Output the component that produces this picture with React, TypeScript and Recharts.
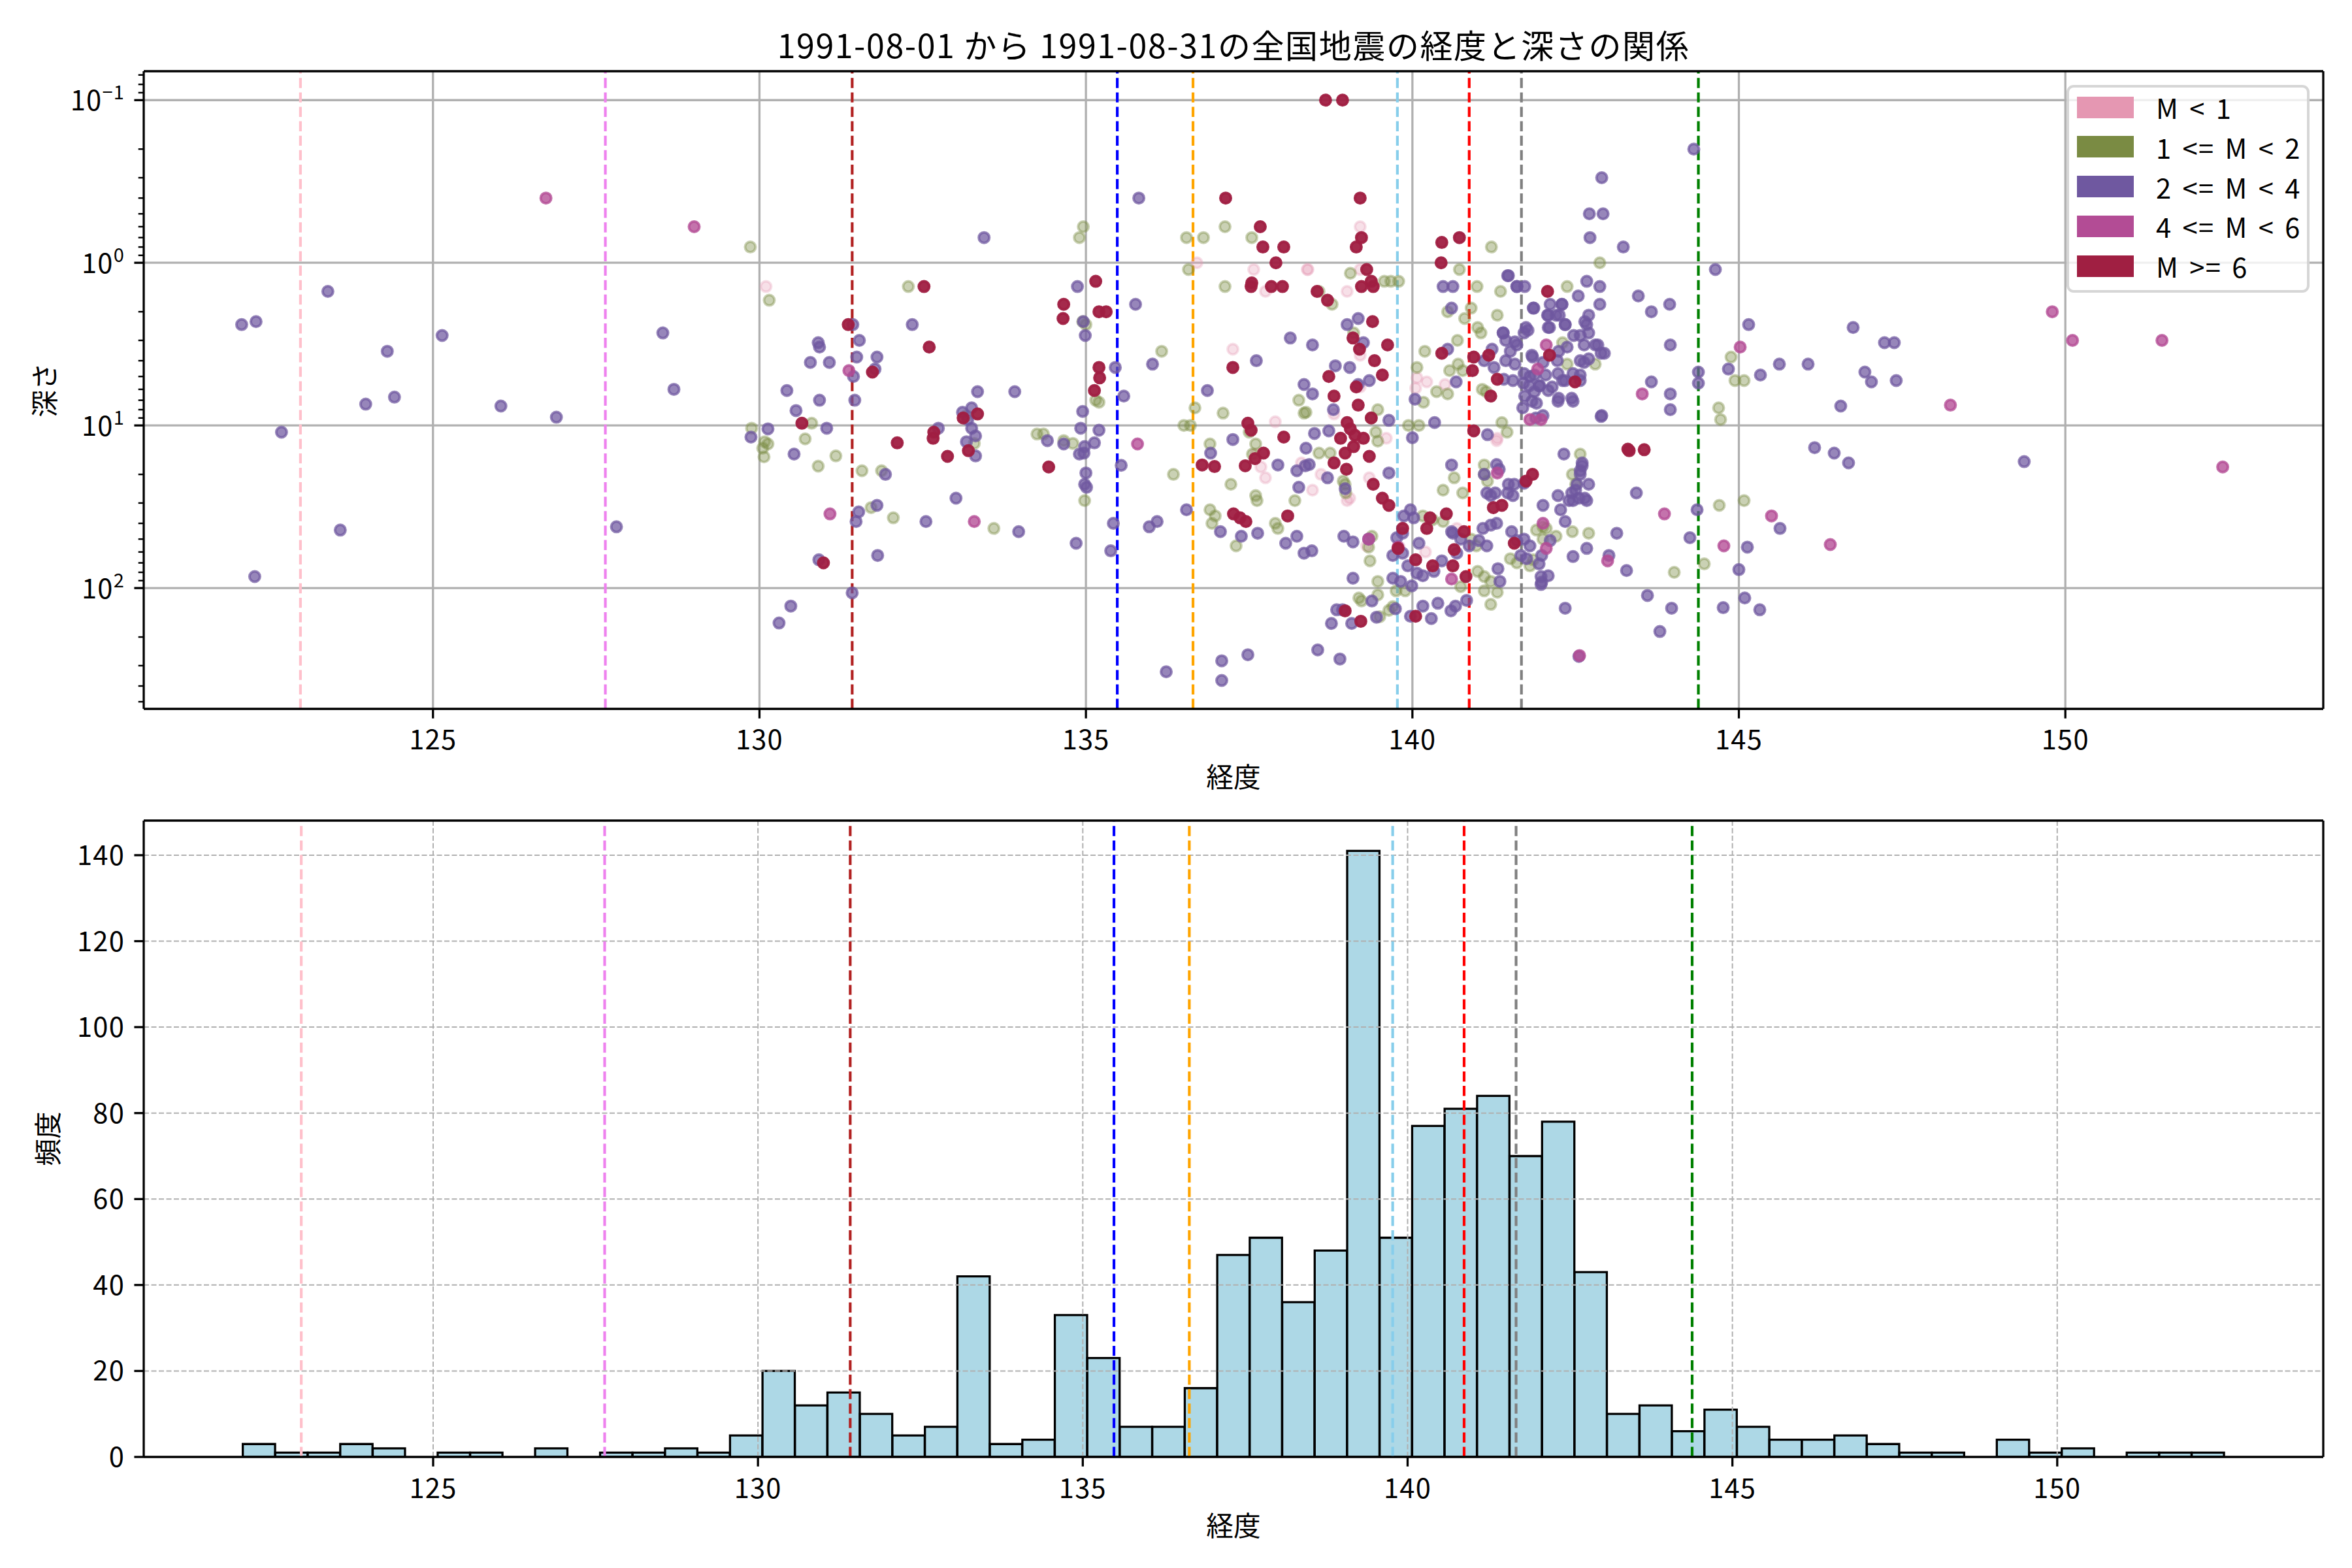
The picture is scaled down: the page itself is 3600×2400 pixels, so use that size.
import React from 'react';
import {
  ScatterChart, Scatter, XAxis, YAxis, ReferenceLine, Legend,
  BarChart, Bar,
} from 'recharts';

const FONT = '"Noto Sans CJK JP", "Noto Sans", sans-serif';

// ---------------- data ----------------
const TITLE = '1991-08-01 から 1991-08-31の全国地震の経度と深さの関係';
const X_LABEL = '経度';
const Y_LABEL_TOP = '深さ';
const Y_LABEL_BOTTOM = '頻度';

const X_TICKS = [125, 130, 135, 140, 145, 150];
const Y_MAJOR = [0.1, 1, 10, 100];
const Y_MINOR = [0.07, 0.08, 0.09, 0.2, 0.3, 0.4, 0.5, 0.6, 0.7, 0.8, 0.9, 2, 3, 4, 5, 6, 7, 8, 9, 20, 30, 40, 50, 60, 70, 80, 90, 200, 300, 400, 500];

const CAT_LABELS = ['M < 1', '1 <= M < 2', '2 <= M < 4', '4 <= M < 6', 'M >= 6'];
const CAT_COLORS = ['#e597b2', '#7a8b43', '#6f58a0', '#b34c95', '#a01f42'];
const CAT_ALPHA = [0.3, 0.4, 0.72, 0.78, 0.95];

// [longitude, depth]
const POINTS_M0: [number, number][] = [
  [130.10, 1.4], [137.25, 3.4], [137.57, 1.1], [138.39, 1.1], [137.75, 1.5], [137.6, 15], [137.68, 18], [137.75, 21],
  [138.3, 17], [138.47, 25], [139.0, 29], [139.8, 56], [140.68, 43], [138.4, 1.1], [139.0, 1.5], [139.2, 1.1],
  [139.2, 3.7], [139.2, 5.8], [140.07, 5.1], [140.5, 5.6], [141.3, 12], [138.8, 8.5], [139.04, 28], [139.34, 21],
  [139.3, 55], [140.2, 60], [139.2, 0.6], [140.05, 5.9], [140.22, 5.4], [141.29, 12.4], [137.9, 9.5], [136.7, 1.0],
  [138.6, 20], [139.6, 12],
];

const POINTS_M1: [number, number][] = [
  [129.86, 0.8], [130.15, 1.7], [129.88, 10.4], [130.08, 12.6], [130.13, 13], [130.05, 13.8], [130.07, 15.6], [130.8, 9.7],
  [130.70, 12.1], [130.90, 17.8], [131.17, 15.4], [131.57, 19], [131.87, 19], [131.71, 32], [132.05, 37], [132.28, 1.4],
  [133.17, 8.7], [133.29, 12.9], [133.59, 43], [134.25, 11.3], [134.35, 11.3], [134.66, 12.4], [134.8, 12.9], [134.96, 0.6],
  [134.90, 0.7], [134.95, 2.3], [135.0, 2.4], [135.15, 7.0], [135.2, 7.2], [134.98, 29], [136.16, 3.5], [136.34, 20],
  [137.13, 0.6], [136.54, 0.7], [136.57, 1.1], [137.13, 1.4], [137.54, 0.7], [136.67, 7.8], [137.1, 8.4], [136.6, 10],
  [136.5, 10], [136.9, 13], [137.5, 11], [137.6, 13], [137.55, 15], [138.26, 7.0], [138.34, 8.4], [137.22, 23],
  [137.6, 27], [137.62, 29], [136.9, 33], [136.98, 36], [136.93, 40], [137.9, 40], [137.94, 43], [137.3, 55],
  [138.2, 29], [139.38, 48], [139.33, 56], [139.35, 68], [139.18, 115], [139.22, 120], [139.47, 91], [139.47, 110],
  [139.75, 104], [139.89, 104], [139.7, 130], [139.5, 150], [139.64, 137], [140.16, 36], [140.31, 38], [140.47, 39],
  [140.9, 50], [140.98, 55], [141.0, 79], [141.1, 85], [141.2, 91], [141.1, 104], [141.3, 106], [141.2, 126],
  [141.5, 66], [141.6, 70], [141.8, 73], [141.85, 67], [142.0, 42], [141.9, 44], [142.05, 43], [142.0, 50],
  [142.2, 48], [142.45, 45], [142.7, 46], [144.7, 31], [144.69, 7.8], [144.72, 9.2], [144.88, 3.8], [144.94, 5.3],
  [145.08, 5.3], [145.08, 29], [144.01, 80], [144.47, 71], [140.74, 98], [141.21, 0.8], [142.87, 1.0], [136.8, 0.7],
  [139.05, 1.16], [139.57, 1.3], [139.67, 1.3], [139.79, 1.3], [138.57, 1.5], [138.77, 1.8], [140.72, 1.1], [140.99, 1.4],
  [141.35, 1.5], [142.37, 1.4], [140.9, 1.9], [140.54, 2.0], [140.8, 2.2], [141.0, 2.5], [141.05, 2.7], [141.3, 2.1],
  [140.69, 3.0], [140.19, 3.5], [140.07, 4.4], [140.7, 4.2], [140.57, 4.6], [140.77, 4.6], [140.37, 6.2], [140.17, 7.2],
  [140.54, 6.4], [141.07, 6.0], [141.13, 6.2], [139.1, 2.7], [139.47, 8.0], [139.37, 9.0], [139.44, 11], [139.47, 12.5],
  [138.57, 14.8], [138.74, 14.8], [138.37, 8.3], [138.97, 23], [139.94, 10], [140.1, 10], [141.37, 9.6], [141.45, 11],
  [141.1, 17.5], [140.64, 21], [140.47, 25], [140.77, 26], [142.57, 15], [142.8, 4.2], [142.3, 3.1], [142.37, 4.2],
  [141.1, 20], [141.15, 22], [138.94, 22], [138.98, 26], [142.45, 20], [142.5, 23],
];

const POINTS_M2: [number, number][] = [
  [122.07, 2.4], [122.29, 2.3], [123.39, 1.5], [122.68, 11], [122.27, 85], [123.58, 44], [124.30, 3.5], [123.97, 7.4],
  [124.41, 6.7], [125.14, 2.8], [126.04, 7.6], [126.89, 8.9], [127.81, 42], [128.52, 2.7], [128.69, 6.0], [129.87, 11.8],
  [130.13, 10.5], [130.42, 6.1], [130.56, 8.1], [130.78, 4.1], [130.90, 3.1], [130.92, 3.3], [130.92, 7.0], [131.07, 4.1],
  [131.03, 10.4], [130.53, 15], [131.43, 2.4], [131.53, 3.0], [131.49, 3.8], [131.44, 5.0], [131.46, 7.0], [131.80, 3.8],
  [131.77, 4.5], [131.93, 20], [131.52, 34], [131.48, 39], [131.80, 31], [131.81, 63], [130.91, 67], [131.42, 107],
  [130.48, 129], [130.30, 164], [132.34, 2.4], [133.01, 28], [132.55, 39], [132.74, 10.4], [133.11, 8.3], [133.19, 9.2],
  [133.25, 10.4], [133.31, 11.6], [133.17, 12.6], [133.31, 15.4], [133.25, 7.8], [133.34, 6.2], [133.44, 0.7], [133.91, 6.2],
  [133.97, 45], [134.41, 12.4], [134.66, 13], [134.85, 53], [134.87, 1.4], [134.96, 2.3], [134.99, 2.8], [134.95, 8.2],
  [134.92, 10.4], [134.98, 13.5], [134.97, 14.8], [135.0, 19.6], [134.98, 23], [135.01, 24], [135.13, 12.8], [134.9, 15],
  [135.2, 10.7], [135.45, 4.4], [135.58, 6.6], [135.54, 17.6], [135.42, 40], [135.38, 59], [135.81, 0.4], [135.76, 1.8],
  [136.02, 4.2], [135.97, 42], [136.09, 39], [136.23, 327],
  [144.31, 0.2], [142.90, 0.3], [142.71, 0.5], [142.92, 0.5], [142.72, 0.7], [143.23, 0.8], [144.64, 1.1], [143.46, 1.6],
  [143.66, 2.0], [143.94, 1.8], [145.15, 2.4], [146.75, 2.5], [147.23, 3.1], [147.38, 3.1], [143.95, 3.2], [144.38, 4.7],
  [144.38, 5.5], [144.84, 4.5], [145.33, 4.9], [145.62, 4.2], [146.06, 4.2], [146.93, 4.7], [147.03, 5.4], [147.41, 5.3],
  [143.66, 5.4], [143.95, 6.4], [143.95, 8.0], [146.56, 7.6], [146.16, 13.7], [146.46, 14.8], [146.68, 17], [149.37, 16.7],
  [143.43, 26], [144.36, 33], [145.63, 43], [145.13, 56], [145.0, 77], [145.09, 115], [145.32, 136], [144.76, 132],
  [144.25, 49], [143.13, 46], [143.28, 78], [143.01, 63], [142.67, 57], [143.6, 111], [143.97, 133], [143.79, 185],
  [142.34, 133], [141.97, 85], [141.97, 95], [142.55, 263], [137.08, 280], [137.08, 370], [137.48, 257], [138.55, 240],
  [138.89, 273],
  [136.86, 6.1], [137.25, 12.2], [136.91, 14.8], [136.54, 33], [137.06, 45], [137.38, 48], [137.63, 46], [138.23, 48],
  [138.46, 59], [138.34, 61], [138.06, 53], [138.34, 5.6], [138.13, 2.9], [137.61, 4.0], [138.23, 19], [138.36, 17.7],
  [137.94, 17.5], [138.26, 24], [138.95, 48], [139.09, 52], [139.09, 87], [139.33, 50], [138.76, 165], [138.84, 136],
  [139.07, 165], [138.93, 136], [139.45, 151], [139.38, 120], [139.74, 134], [139.85, 46], [139.76, 49], [139.70, 63],
  [139.87, 36], [140.02, 37], [140.10, 53], [139.85, 61], [139.93, 73], [140.07, 81], [140.16, 84], [140.33, 79],
  [140.45, 68], [140.62, 46], [140.74, 50], [140.87, 55], [141.02, 51], [141.08, 43], [141.2, 27], [141.2, 41],
  [141.29, 40], [141.46, 26], [141.52, 45], [141.6, 51], [141.71, 50], [141.8, 55], [141.75, 66], [141.98, 63],
  [141.66, 63], [141.94, 71], [142.08, 84], [141.98, 92], [141.31, 76], [141.34, 91], [141.14, 55], [140.6, 45],
  [140.68, 61], [140.39, 124], [140.59, 138], [140.66, 129], [140.83, 119], [140.16, 129], [140.29, 154], [139.97, 149],
  [139.82, 91], [139.70, 87], [139.99, 97], [141.33, 18.6], [141.56, 23], [141.71, 22.7], [142.11, 51], [142.34, 39],
  [142.23, 27], [142.44, 26], [142.52, 23], [142.57, 20], [142.6, 17.7], [142.46, 29], [142.55, 28], [142.67, 29],
  [142.46, 64],
  [138.47, 3.2], [139.0, 2.4], [139.17, 2.2], [139.25, 3.1], [138.82, 4.3], [139.04, 4.4], [139.17, 5.6], [139.34, 5.3],
  [138.47, 6.4], [138.79, 8.0], [139.64, 9.3], [138.5, 11.2], [138.72, 10.8], [138.37, 13.8], [138.42, 17.4], [138.7, 21],
  [138.97, 24.5], [139.64, 19.6], [140.0, 11.9], [140.04, 6.9], [140.34, 9.6], [140.47, 1.4], [140.62, 1.4], [140.6, 1.9],
  [140.54, 3.4], [140.67, 5.4], [141.15, 11.4], [140.6, 17.5], [141.1, 20], [141.29, 17.4], [141.47, 1.2], [141.6, 1.4],
  [141.72, 1.4], [141.39, 2.7], [141.57, 3.06], [141.50, 3.5], [141.57, 4.2], [141.74, 2.5], [141.77, 2.6], [141.84, 3.8],
  [141.80, 5.0], [141.70, 5.5], [141.72, 6.6], [141.87, 6.2], [141.95, 5.7], [141.9, 7.3], [142.04, 4.9], [142.14, 5.8],
  [142.24, 6.8], [142.44, 6.8], [142.3, 5.3], [142.57, 4.9], [142.57, 4.0], [142.7, 3.9], [142.64, 2.3], [142.7, 2.1],
  [142.7, 2.7], [142.84, 3.2], [142.94, 3.6], [142.87, 1.8], [142.87, 1.4], [142.67, 1.3], [142.54, 1.6], [142.29, 1.8],
  [142.07, 2.1], [142.2, 2.1], [142.1, 2.5], [142.34, 2.4], [142.37, 3.3], [142.47, 2.8], [141.85, 1.9], [142.9, 8.7],
  [142.32, 15], [142.6, 17], [142.57, 19], [142.5, 25], [142.64, 28], [142.7, 23], [142.4, 29], [142.27, 33],
  [142.0, 31], [141.4, 5.2], [142.22, 4.0], [142.24, 3.5], [141.87, 4.9], [141.47, 23], [141.54, 27], [141.14, 26],
  [141.27, 26], [139.97, 33],
  [141.46, 1.2], [141.6, 1.4], [141.86, 1.9], [142.08, 2.1], [142.25, 2.1], [142.34, 2.4], [142.08, 2.5], [142.11, 1.8],
  [142.29, 1.8], [142.67, 2.4], [142.57, 2.8], [142.63, 3.2], [142.8, 3.2], [142.89, 3.6], [142.63, 4.1], [142.46, 4.8],
  [142.23, 4.8], [142.0, 4.1], [141.83, 3.7], [141.71, 2.7], [141.6, 3.2], [141.43, 4.0], [141.39, 2.7], [141.71, 4.8],
  [141.79, 5.7], [141.94, 5.7], [142.08, 6.1], [142.23, 7.1], [142.46, 7.1], [141.83, 7.1], [141.69, 7.8], [141.89, 9.0],
  [142.0, 8.7], [142.34, 5.3], [142.57, 5.3], [142.89, 8.8], [141.22, 3.4], [141.43, 3.0], [141.54, 5.3], [141.1, 4.0],
  [141.25, 4.4],
];

const POINTS_M4: [number, number][] = [
  [126.73, 0.40], [129.0, 0.6], [131.08, 35], [131.37, 4.6], [133.29, 39], [135.79, 13], [149.80, 2.0], [150.11, 3.0],
  [151.48, 3.0], [148.24, 7.5], [152.41, 18], [145.02, 3.3], [143.52, 6.4], [143.86, 35], [145.5, 36], [144.77, 55],
  [146.4, 54], [142.99, 68], [142.56, 260], [141.8, 9.2], [141.97, 9.2], [142.05, 3.2], [141.92, 4.5], [141.3, 19.6],
  [142.0, 40], [142.05, 57], [139.33, 50], [139.78, 56], [140.6, 88],
];

const POINTS_M6: [number, number][] = [
  [131.36, 2.4], [131.73, 4.7], [132.52, 1.4], [132.60, 3.3], [130.65, 9.7], [130.98, 70], [132.11, 12.8], [132.67, 11],
  [132.66, 12], [132.88, 15.5], [133.20, 14.3], [133.34, 8.5], [133.12, 9], [134.43, 18], [134.66, 1.8], [134.65, 2.2],
  [135.15, 1.3], [135.2, 2.0], [135.31, 2.0], [135.2, 4.4], [135.21, 5.1], [135.13, 6.1],
  [138.67, 0.1], [138.93, 0.1], [137.14, 0.4], [139.2, 0.4], [137.67, 0.6], [137.71, 0.8], [138.03, 0.8], [137.91, 1.0],
  [137.54, 1.33], [137.53, 1.4], [137.84, 1.4], [138.01, 1.4], [139.14, 0.8], [139.22, 0.7], [137.48, 9.7], [137.53, 10.7],
  [138.03, 11.8], [137.59, 16], [137.72, 14.8], [137.44, 17.7], [136.78, 17.5], [136.97, 17.9], [137.25, 4.4], [138.09, 36],
  [137.26, 35], [137.45, 39], [137.36, 37], [139.85, 43], [140.22, 43], [139.78, 57], [140.05, 67], [140.31, 73],
  [140.64, 58], [140.62, 73], [138.97, 138], [139.21, 160], [140.05, 149], [140.45, 0.75], [140.72, 0.7], [141.56, 53],
  [140.82, 85], [140.79, 45], [143.32, 14.3], [143.55, 14.1],
  [139.30, 1.1], [139.37, 1.3], [139.22, 1.4], [139.4, 1.4], [138.54, 1.5], [138.70, 1.7], [139.39, 2.3], [139.09, 2.9],
  [139.62, 3.2], [139.19, 3.4], [139.42, 4.0], [138.72, 5.0], [139.54, 4.9], [139.14, 5.8], [138.80, 6.6], [139.17, 7.5],
  [139.0, 9.6], [139.37, 9.0], [139.12, 11.5], [138.97, 14.8], [139.34, 15.5], [138.80, 17], [138.99, 18.6], [139.4, 23],
  [139.54, 28], [139.64, 31], [140.45, 3.6], [140.44, 1.0], [140.94, 3.8], [140.92, 4.6], [141.17, 3.7], [141.3, 5.2],
  [141.2, 6.6], [140.94, 10.8], [142.07, 1.5], [142.1, 3.7], [142.49, 5.4], [143.30, 14], [141.84, 20], [141.74, 22],
  [141.37, 31], [141.24, 32], [140.52, 35], [140.27, 37], [139.05, 10.5], [139.25, 12], [139.1, 13.5], [138.9, 12],
];

const CAT_POINTS = [POINTS_M0, POINTS_M1, POINTS_M2, POINTS_M4, POINTS_M6];

// histogram (bin counts, bins of 0.5 degree starting at 122.07)
const HIST_START = 122.07;
const HIST_BIN = 0.5;
const HIST_COUNTS = [
  3, 1, 1, 3, 2, 0, 1, 1, 0, 2, 0, 1, 1, 2, 1, 5, 20, 12, 15, 10, 5, 7, 42, 3, 4, 33, 23, 7, 7, 16,
  47, 51, 36, 48, 141, 51, 77, 81, 84, 70, 78, 43, 10, 12, 6, 11, 7, 4, 4, 5, 3, 1, 1, 0, 4, 1, 2, 0, 1, 1, 1,
];
const HIST_Y_TICKS = [0, 20, 40, 60, 80, 100, 120, 140];

// reference longitudes (dashed vertical lines)
const REF_LONS = [122.97, 127.64, 131.42, 135.48, 136.64, 139.77, 140.87, 141.67, 144.38];
const REF_COLORS = ['pink', 'violet', 'firebrick', 'blue', 'orange', 'skyblue', 'red', 'gray', 'green'];

// ---------------- layout ----------------
const W = 3600;
const PLOT_LEFT = 220;
const PLOT_RIGHT = 3556;
const TOP_H = 1240;
const TOP_PLOT_TOP = 109;
const TOP_PLOT_BOTTOM = 1085;
const BOT_TOP = 1240;
const BOT_H = 1160;
const BOT_PLOT_TOP = 1256;
const BOT_PLOT_BOTTOM = 2230;

const TOP_X_DOMAIN: [number, number] = [120.57, 153.95];
const TOP_Y_DOMAIN: [number, number] = [0.0664, 553];
const BOT_X_DOMAIN: [number, number] = [120.545, 154.095];
const BOT_Y_DOMAIN: [number, number] = [0, 148.05];

const TICK_LEN = 14.6;
const MINOR_LEN = 8.3;
const AXIS_W = 3.3;
const FS = 41.7;
const LS = '1.2px';

const histData = HIST_COUNTS.map((c, i) => ({ center: HIST_START + HIST_BIN * (i + 0.5), count: c }));
// just under the band width so the library keeps the requested size (bars touch like a histogram)
const BAR_SIZE = (HIST_BIN * (PLOT_RIGHT - PLOT_LEFT)) / (BOT_X_DOMAIN[1] - BOT_X_DOMAIN[0]) - 0.3;

// ---------------- helpers ----------------
const XTick = (offsetY: number) => (props: any) => {
  const { x, y, payload } = props;
  return (
    <g>
      <line x1={x} x2={x} y1={y} y2={y + TICK_LEN} stroke="#000" strokeWidth={AXIS_W} />
      <text x={x} y={y + offsetY} textAnchor="middle" fontFamily={FONT} fontSize={FS} fill="#000" letterSpacing={LS}>
        {payload.value}
      </text>
    </g>
  );
};

const LogTick = (props: any) => {
  const { x, y, payload } = props;
  const v = payload.value as number;
  const e = Math.log10(v);
  const major = Math.abs(e - Math.round(e)) < 1e-6;
  const exp = Math.round(e);
  return (
    <g>
      <line x1={x - (major ? TICK_LEN : MINOR_LEN)} x2={x} y1={y} y2={y} stroke="#000" strokeWidth={AXIS_W * (major ? 1 : 0.75)} />
      {major && (
        <text x={x - 29} y={y + 16} textAnchor="end" fontFamily={FONT} fontSize={FS} fill="#000" letterSpacing={LS}>
          10
          <tspan dy={-17} fontSize={29}>{exp < 0 ? '\u2212' + Math.abs(exp) : String(exp)}</tspan>
        </text>
      )}
    </g>
  );
};

const LinTick = (props: any) => {
  const { x, y, payload } = props;
  return (
    <g>
      <line x1={x - TICK_LEN} x2={x} y1={y} y2={y} stroke="#000" strokeWidth={AXIS_W} />
      <text x={x - 29} y={y + 15} textAnchor="end" fontFamily={FONT} fontSize={FS} fill="#000" letterSpacing={LS}>
        {payload.value}
      </text>
    </g>
  );
};

const XLabel = (offsetY: number) => (props: any) => {
  const vb = props.viewBox || {};
  const cx = (vb.x ?? PLOT_LEFT) + (vb.width ?? PLOT_RIGHT - PLOT_LEFT) / 2;
  const cy = (vb.y ?? 0) + offsetY;
  return (
    <text x={cx} y={cy} textAnchor="middle" dominantBaseline="central" fontFamily={FONT} fontSize={FS} fill="#000">
      {X_LABEL}
    </text>
  );
};

const YLabel = (text: string, lx: number) => (props: any) => {
  const vb = props.viewBox || {};
  const cy = (vb.y ?? 0) + (vb.height ?? 0) / 2;
  return (
    <text x={lx} y={cy} transform={`rotate(-90, ${lx}, ${cy})`} textAnchor="middle" dominantBaseline="central"
      fontFamily={FONT} fontSize={FS} fill="#000">
      {text}
    </text>
  );
};

const makeDot = (color: string, alpha: number) => (props: any) => {
  if (props.cx == null || props.cy == null) return <g />;
  return (
    <circle cx={props.cx} cy={props.cy} r={8} fill={color} fillOpacity={alpha} stroke={color} strokeOpacity={alpha} strokeWidth={4} />
  );
};

// axes frame drawn as four reference lines on the domain edges (last, so it sits on top)
const frameLines = (xd: [number, number], yd: [number, number], key: string) => [
  <ReferenceLine key={key + 'fb'} y={yd[0]} stroke="#000" strokeWidth={AXIS_W} ifOverflow="visible" />,
  <ReferenceLine key={key + 'ft'} y={yd[1]} stroke="#000" strokeWidth={AXIS_W} ifOverflow="visible" />,
  <ReferenceLine key={key + 'fl'} x={xd[0]} stroke="#000" strokeWidth={AXIS_W} ifOverflow="visible" />,
  <ReferenceLine key={key + 'fr'} x={xd[1]} stroke="#000" strokeWidth={AXIS_W} ifOverflow="visible" />,
];

const LegendBox = () => (
  <div style={{
    position: 'relative', width: 372, height: 318, boxSizing: 'border-box',
    border: '4px solid rgba(204,204,204,0.8)', borderRadius: 11, background: 'rgba(255,255,255,0.8)',
    fontFamily: FONT, fontSize: FS, color: '#000',
  }}>
    {CAT_LABELS.map((lab, i) => {
      const cy = 30 + i * 60.8;
      return (
        <div key={lab}>
          <div style={{ position: 'absolute', left: 12, top: cy - 16.5, width: 87, height: 33, background: CAT_COLORS[i] }} />
          <div style={{
            position: 'absolute', left: 133, top: cy - 25, height: 50, lineHeight: '50px', whiteSpace: 'nowrap',
            letterSpacing: '1.5px', wordSpacing: '5px',
          }}>{lab}</div>
        </div>
      );
    })}
  </div>
);

export default function App() {
  return (
    <div style={{ position: 'absolute', left: 0, top: 0, width: W, height: 2400, background: '#fff', fontFamily: FONT }}>
      <div style={{
        position: 'absolute', left: 0, top: 42, width: PLOT_LEFT + PLOT_RIGHT, height: 50, lineHeight: '50px',
        textAlign: 'center', fontSize: 50, color: '#000', whiteSpace: 'nowrap', letterSpacing: '1.6px',
      }}>
        {TITLE}
      </div>

      {/* Top: scatter of longitude vs depth */}
      <div style={{ position: 'absolute', left: 0, top: 0 }}>
        <ScatterChart width={W} height={TOP_H}
          margin={{ top: TOP_PLOT_TOP, right: W - PLOT_RIGHT, bottom: 0, left: 0 }}>
          <XAxis type="number" dataKey="lon" domain={TOP_X_DOMAIN} ticks={X_TICKS} allowDataOverflow
            height={TOP_H - TOP_PLOT_BOTTOM} tickSize={0} tickMargin={0} axisLine={false} tickLine={false}
            tick={XTick(62)} interval={0} label={{ content: XLabel(102) } as any} />
          <YAxis type="number" dataKey="depth" scale="log" domain={TOP_Y_DOMAIN} reversed allowDataOverflow
            ticks={[...Y_MAJOR, ...Y_MINOR]} width={PLOT_LEFT} tickSize={0} tickMargin={0} axisLine={false}
            tickLine={false} tick={LogTick} interval={0} label={{ content: YLabel(Y_LABEL_TOP, 66) } as any} />
          {CAT_POINTS.map((pts, i) => (
            <Scatter key={CAT_LABELS[i]} name={CAT_LABELS[i]} data={pts.map(([lon, depth]) => ({ lon, depth }))}
              fill={CAT_COLORS[i]} shape={makeDot(CAT_COLORS[i], CAT_ALPHA[i])} isAnimationActive={false} />
          ))}
          {/* grid (drawn above the points, as matplotlib does) */}
          {Y_MAJOR.map((v) => (
            <ReferenceLine key={'gy' + v} y={v} stroke="#b0b0b0" strokeWidth={AXIS_W} />
          ))}
          {X_TICKS.map((v) => (
            <ReferenceLine key={'gx' + v} x={v} stroke="#b0b0b0" strokeWidth={AXIS_W} />
          ))}
          {REF_LONS.map((lon, i) => (
            <ReferenceLine key={'t' + i} x={lon} stroke={REF_COLORS[i]} strokeWidth={4.17} strokeDasharray="15.4 6.7" />
          ))}
          {frameLines(TOP_X_DOMAIN, TOP_Y_DOMAIN, 'top')}
          <Legend layout="vertical" align="center" verticalAlign="middle" content={() => <LegendBox />}
            wrapperStyle={{ left: 3163, top: 130, width: 372, height: 318 }} />
        </ScatterChart>
      </div>

      {/* Bottom: histogram of longitude */}
      <div style={{ position: 'absolute', left: 0, top: BOT_TOP }}>
        <BarChart width={W} height={BOT_H} data={histData} barCategoryGap={0} barGap={0}
          margin={{ top: BOT_PLOT_TOP - BOT_TOP, right: W - PLOT_RIGHT, bottom: 0, left: 0 }}>
          <XAxis type="number" dataKey="center" domain={BOT_X_DOMAIN} ticks={X_TICKS} allowDataOverflow
            height={BOT_TOP + BOT_H - BOT_PLOT_BOTTOM} tickSize={0} tickMargin={0} axisLine={false} tickLine={false}
            tick={XTick(63)} interval={0} label={{ content: XLabel(103) } as any} />
          <YAxis type="number" domain={BOT_Y_DOMAIN} ticks={HIST_Y_TICKS} allowDataOverflow width={PLOT_LEFT}
            tickSize={0} tickMargin={0} axisLine={false} tickLine={false} tick={LinTick} interval={0}
            label={{ content: YLabel(Y_LABEL_BOTTOM, 71) } as any} />
          <Bar dataKey="count" fill="#add8e6" stroke="#000" strokeWidth={AXIS_W} barSize={BAR_SIZE} isAnimationActive={false} />
          {/* dashed grid above the bars */}
          {HIST_Y_TICKS.filter((v) => v > 0).map((v) => (
            <ReferenceLine key={'hy' + v} y={v} stroke="#b0b0b0" strokeWidth={2} strokeDasharray="8 3.5" />
          ))}
          {X_TICKS.map((v) => (
            <ReferenceLine key={'hx' + v} x={v} stroke="#b0b0b0" strokeWidth={2} strokeDasharray="8 3.5" />
          ))}
          {REF_LONS.map((lon, i) => (
            <ReferenceLine key={'b' + i} x={lon} stroke={REF_COLORS[i]} strokeWidth={4.17} strokeDasharray="15.4 6.7" />
          ))}
          {frameLines(BOT_X_DOMAIN, BOT_Y_DOMAIN, 'bot')}
        </BarChart>
      </div>
    </div>
  );
}
